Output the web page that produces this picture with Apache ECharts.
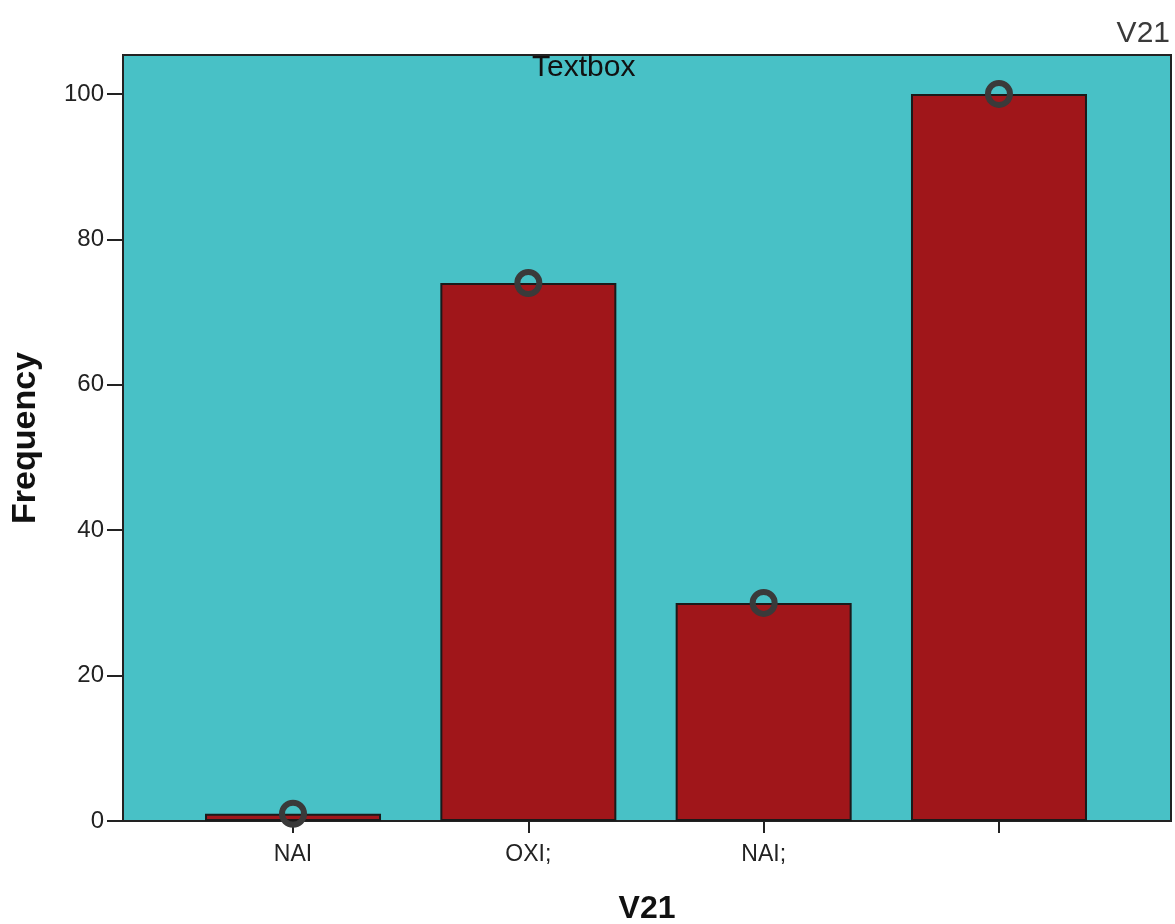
<!DOCTYPE html>
<html>
<head>
<meta charset="utf-8">
<script src="https://cdn.jsdelivr.net/npm/echarts@6/dist/echarts.min.js"></script>
<style>html,body{margin:0;padding:0;background:#fff}#c{width:1175px;height:924px}</style>
</head>
<body>
<div id="c"></div>
<script>
const categories = ['NAI', 'OXI;', 'NAI;', ''];
const frequencies = [1, 74, 30, 100];
const yTicks = [0, 20, 40, 60, 80, 100];

const chart = echarts.init(document.getElementById('c'), null, {renderer: 'canvas'});
const idx = categories.map((_, i) => i);
const barData = frequencies.map((v, i) => [i, v]);

chart.setOption({
  animation: false,
  textStyle: {fontFamily: '"Liberation Sans", Arial, sans-serif'},
  title: [
    {text: 'V21', right: 0, top: 14, textStyle: {fontSize: 30, fontWeight: 'normal', color: '#3a3a3a', fontFamily: '"Liberation Sans", Arial, sans-serif'}},
    {text: 'Textbox', left: 527, top: 48, textStyle: {fontSize: 30, fontWeight: 'normal', color: '#111', fontFamily: '"Liberation Sans", Arial, sans-serif'}, z: 10}
  ],
  grid: {left: 123, top: 55, right: 4, bottom: 103, outerBoundsMode: 'none', containLabel: false,
         show: true, backgroundColor: '#48C1C6', borderColor: '#222', borderWidth: 2},
  xAxis: {
    type: 'value', min: -0.7225, max: 3.731,
    name: 'V21', nameLocation: 'middle', nameGap: 72,
    nameTextStyle: {fontSize: 32, fontWeight: 'bold', color: '#111'},
    axisLine: {show: true, onZero: false, lineStyle: {color: '#222', width: 2}},
    axisTick: {show: true, customValues: idx, length: 12, lineStyle: {color: '#222', width: 2}},
    axisLabel: {customValues: idx, formatter: v => categories[Math.round(v)], fontSize: 23, color: '#222', margin: 22},
    splitLine: {show: false}
  },
  yAxis: {
    type: 'value', min: 0, max: 105.36,
    name: 'Frequency', nameLocation: 'middle', nameGap: 80, nameRotate: 90,
    nameTextStyle: {fontSize: 34, fontWeight: 'bold', color: '#111'},
    axisLine: {show: true, onZero: false, lineStyle: {color: '#222', width: 2}},
    axisTick: {show: true, customValues: yTicks, length: 16, lineStyle: {color: '#222', width: 2}},
    axisLabel: {customValues: yTicks, fontSize: 24, color: '#222', margin: 19},
    splitLine: {show: false}
  },
  series: [
    {type: 'bar', data: barData, barWidth: 176,
     itemStyle: {color: '#A0161A', borderColor: '#1a1a1a', borderWidth: 2}},
    {type: 'scatter', data: barData, symbol: 'circle', symbolSize: 22, z: 5,
     itemStyle: {color: 'rgba(0,0,0,0)', borderColor: '#3a3a3a', borderWidth: 6, opacity: 1}}
  ]
});
</script>
</body>
</html>
